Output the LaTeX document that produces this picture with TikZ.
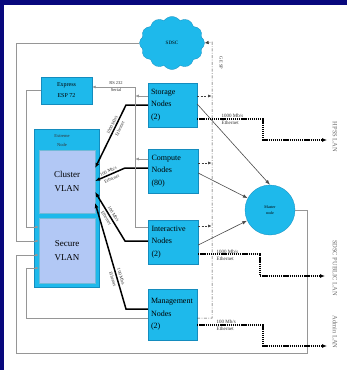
\documentclass[tikz,border=0pt]{standalone}
\usepackage{fontspec}
\setmainfont{Liberation Serif}
\usetikzlibrary{shapes.symbols,arrows.meta}
\definecolor{navy}{RGB}{8,8,125}
\definecolor{boxcyan}{RGB}{30,185,235}
\definecolor{boxedge}{RGB}{20,140,190}
\definecolor{vlan}{RGB}{178,200,245}
\definecolor{wire}{RGB}{150,150,150}
\definecolor{lbl}{RGB}{110,110,110}
\begin{document}
\begin{tikzpicture}[x=1pt,y=-1pt,
  nodebox/.style={draw=boxedge,line width=0.3pt,fill=boxcyan,inner sep=2pt,
    minimum width=#1,text width=43pt,align=left,
    font=\fontsize{8}{12.5}\selectfont},
  vlanbox/.style={draw=boxedge!60,line width=0.3pt,fill=vlan,minimum width=56pt,
    align=center,font=\fontsize{9}{14}\selectfont},
  tiny/.style={font=\fontsize{5}{7}\selectfont,inner sep=0.5pt,text=black!80},
  ethlbl/.style={font=\fontsize{4.6}{8.5}\selectfont,inner sep=0.3pt,text=black!80,align=center},
  lanlbl/.style={font=\fontsize{6.5}{8}\selectfont,rotate=-90,text=lbl,inner sep=0},
  eth/.style={line width=1.5pt,black,-{Latex[length=5pt,width=4pt]}},
  wirearr/.style={wire,line width=0.6pt,-{Latex[length=3.5pt,width=3pt]}},
  lanarr/.style={line width=1.3pt,black,dash pattern=on 1.3pt off 0.8pt,
    -{Latex[length=5pt,width=4pt]}},
  busline/.style={black!75,line width=0.5pt,dash pattern=on 3pt off 1.5pt on 0.7pt off 1.5pt},
  busarr/.style={black!75,line width=0.5pt,dash pattern=on 2pt off 1.5pt,
    -{Latex[length=3.5pt,width=3pt]}},
  mastarr/.style={black!70,line width=0.6pt,-{Latex[length=5pt,width=3.5pt]}}]

% background and panel
\fill[navy] (0,0) rectangle (347,370);
\fill[white] (4,5) rectangle (347,370);
\useasboundingbox (0,0) rectangle (347,370);

% switch
\node[draw=boxedge,line width=0.3pt,fill=boxcyan,minimum width=65pt,minimum height=158pt,
  inner sep=0] (extreme) at (66.5,208) {};
\node[tiny,align=center,font=\fontsize{4.5}{9}\selectfont] (extremelbl) at (62,141) {Extreme\\Node};
\node[vlanbox,minimum height=63pt] (cluster) at (67,181.5) {Cluster\\VLAN};
\node[vlanbox,minimum height=65pt] (secure) at (67,250.5) {Secure\\VLAN};

% express
\node[draw=boxedge,line width=0.3pt,fill=boxcyan,minimum width=51pt,minimum height=27pt,
  align=center,font=\fontsize{6}{11}\selectfont,inner sep=0] (express) at (66.5,90.5) {Express\\ESP 72};

% cloud
\node[cloud,cloud puffs=12,cloud puff arc=110,draw=boxedge,line width=0.3pt,fill=boxcyan,
  minimum width=65pt,minimum height=53pt,inner sep=0,aspect=1.3,
  font=\fontsize{5}{6}\selectfont] (cloud) at (172,43) {SDSC};

% node boxes
\node[nodebox=49pt,minimum height=44pt] (storage) at (172.5,105) {Storage\\Nodes\\(2)};
\node[nodebox=50pt,minimum height=44pt] (compute) at (173,171) {Compute\\Nodes\\(80)};
\node[nodebox=50pt,minimum height=44pt] (interactive) at (173,242) {Interactive\\Nodes\\(2)};
\node[nodebox=49pt,minimum height=51pt] (mgmt) at (172.5,314.5) {Management\\Nodes\\(2)};

% master
\node[circle,draw=boxedge,line width=0.3pt,fill=boxcyan,minimum size=50pt,inner sep=0,
  align=center,font=\fontsize{4}{6}\selectfont] (master) at (270,210) {Master\\node};

% LAN labels
\node[lanlbl] (hpss) at (335,137) {HPSS LAN};
\node[lanlbl] (public) at (335,268) {SDSC PUBLIC LAN};
\node[lanlbl] (admin) at (335,332) {Admin LAN};
\coordinate (hpssin) at (327,140);
\coordinate (publicin) at (325,276);
\coordinate (adminin) at (327,346);

% Ethernet to cluster VLAN
\draw[eth] (storage.west |- 0,105) -- (126,105) -- (cluster.east |- 0,168);
\draw[eth] (compute.west |- 0,168) -- (125,168) -- (cluster.east |- 0,181);
\draw[eth] (interactive.west |- 0,241) -- (125,241) -- (cluster.east |- 0,192);
\draw[eth] (mgmt.west |- 0,309) -- (126,309) -- (cluster.east |- 0,203);
\node[ethlbl,rotate=63.8] (l1) at (116,127) {1000 Mb/s\\Ethernet};
\node[ethlbl,rotate=23.4] (l2) at (110,175) {100 Mb/s\\Ethernet};
\node[ethlbl,rotate=-58.5] (l3) at (110,216) {100 Mb/s\\Ethernet};
\node[ethlbl,rotate=-73.7] (l4) at (117,278) {100 Mb/s\\Ethernet};

% serial bus to express
\draw[wirearr] (interactive.west |- 0,227) -| (135,87) -- (express.east |- 0,87);
\draw[wirearr] (storage.west |- 0,96) -- (135.3,96);
\draw[wirearr] (compute.west |- 0,159) -- (135.3,159);
\node[tiny,align=center,font=\fontsize{4.5}{7}\selectfont] (rs) at (116,87) {RS 232\\Serial};

% gray wires to secure VLAN
\draw[wirearr] (express.west) -| (26,227) -- (secure.west |- 0,227);
\draw[wirearr] (cloud.west) -| (16,241) -- (secure.west |- 0,241);
\draw[wirearr] (master.east) -| (307,353) -| (16,255) -- (secure.west |- 0,255);
\draw[wirearr] (mgmt.west |- 0,318) -| (26,268) -- (secure.west |- 0,268);

% dash-dot bus to cloud
\draw[busline,-{Latex[length=4pt,width=3.5pt]}] (mgmt.east |- 0,318) -| (212,42) -- (cloud.east);
\draw[busarr] (storage.east |- 0,96) -- (211.5,96);
\draw[busarr] (compute.east |- 0,163) -- (211.5,163);
\draw[busarr] (interactive.east |- 0,226) -- (211.5,226);
\node[tiny,rotate=-90,font=\fontsize{4.5}{6}\selectfont] (gesp) at (221,63) {GE SP};

% to master
\draw[mastarr] (storage.east |- 0,104) -- (master.north);
\draw[mastarr] (compute.east |- 0,173) -- (master.152);
\draw[mastarr] (interactive.east |- 0,245) -- (master.205);

% LAN links
\draw[lanarr] (storage.east |- 0,119) -| (263,140) -- (hpssin);
\draw[lanarr] (interactive.east |- 0,254) -| (260,276) -- (publicin);
\draw[lanarr] (mgmt.east |- 0,325) -| (263,346) -- (adminin);
\node[tiny,align=left,anchor=west] (e1) at (221,119) {1000 Mb/s\\Ethernet};
\node[tiny,align=left,anchor=west] (e2) at (216,255.5) {1000 Mb/s\\Ethernet};
\node[tiny,align=left,anchor=west] (e3) at (216,325) {100 Mb/s\\Ethernet};
\end{tikzpicture}
\end{document}
